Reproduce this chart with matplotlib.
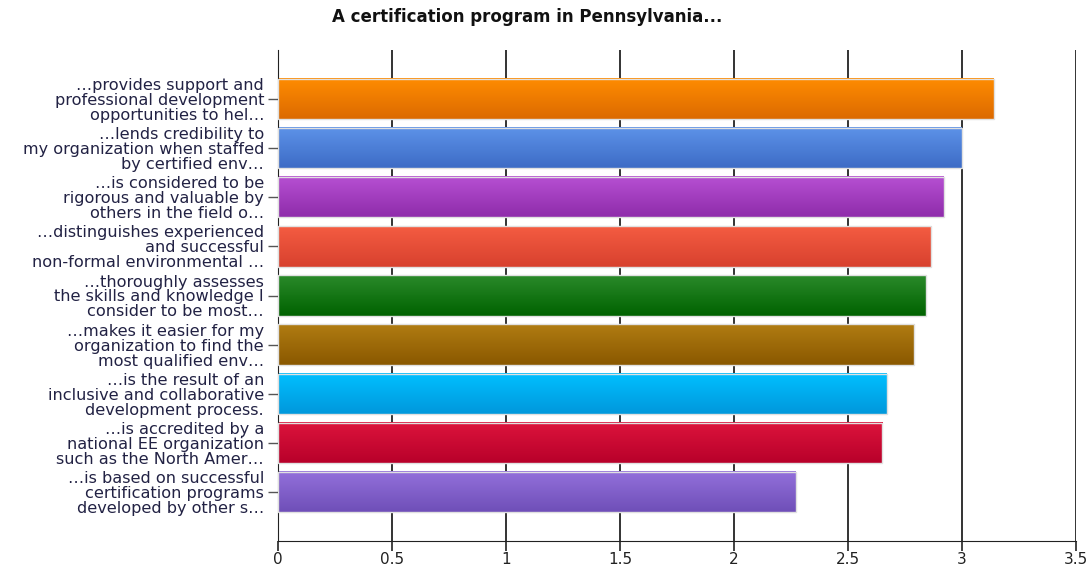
import matplotlib.pyplot as plt
import numpy as np
from matplotlib.colors import LinearSegmentedColormap

# data
labels = [
    "\u2026provides support and\nprofessional development\nopportunities to hel\u2026",
    "\u2026lends credibility to\nmy organization when staffed\nby certified env\u2026",
    "\u2026is considered to be\nrigorous and valuable by\nothers in the field o\u2026",
    "\u2026distinguishes experienced\nand successful\nnon-formal environmental \u2026",
    "\u2026thoroughly assesses\nthe skills and knowledge I\nconsider to be most\u2026",
    "\u2026makes it easier for my\norganization to find the\nmost qualified env\u2026",
    "\u2026is the result of an\ninclusive and collaborative\ndevelopment process.",
    "\u2026is accredited by a\nnational EE organization\nsuch as the North Amer\u2026",
    "\u2026is based on successful\ncertification programs\ndeveloped by other s\u2026",
]
values = [3.14, 3.00, 2.92, 2.865, 2.84, 2.79, 2.67, 2.65, 2.27]
top_colors = ["#ff8c00", "#5d92e8", "#b650d2", "#f45c42", "#2a8a2a",
              "#b07c12", "#00bfff", "#dc143c", "#9370db"]
bottom_colors = ["#dc6a00", "#3d6cc6", "#8f2cab", "#d8412e", "#006200",
                 "#8a5800", "#0098dc", "#b8002a", "#6f4fb8"]

plt.rcParams['font.family'] = ['DejaVu Sans']

fig = plt.figure(figsize=(10.91, 5.65), dpi=100)
ax = fig.add_axes([278/1091, 24/565, (1076-278)/1091, (541-50)/565])

y = np.arange(len(values))
bars = ax.barh(y, values, height=0.82, color='none', edgecolor='#e0e0e0',
               linewidth=1.0, zorder=3)

grad = np.linspace(0, 1, 64).reshape(-1, 1)
for b, c1, c2 in zip(bars, top_colors, bottom_colors):
    x0, y0 = b.get_x(), b.get_y()
    w, h = b.get_width(), b.get_height()
    cmap = LinearSegmentedColormap.from_list('g', [c1, c2])
    ax.imshow(grad, cmap=cmap, aspect='auto', extent=[x0, x0 + w, y0 + h, y0],
              zorder=2, interpolation='bilinear')

ax.set_xlim(0, 3.5)
ax.set_ylim(len(values), -1.0)
ax.set_xticks(np.arange(0, 3.51, 0.5))
ax.set_xticklabels(['0', '0.5', '1', '1.5', '2', '2.5', '3', '3.5'])
ax.set_yticks(y)
ax.set_yticklabels(labels, fontsize=11.6, color='#222244', linespacing=1.0)
ax.xaxis.grid(True, color='#333333', linewidth=1.4, zorder=1)
ax.set_axisbelow(True)

for s in ['top', 'right']:
    ax.spines[s].set_visible(False)
ax.spines['left'].set_color('#222222')
ax.spines['bottom'].set_color('#222222')
ax.tick_params(axis='x', length=7, width=1.2, labelsize=11, colors='#222222', pad=1)
ax.tick_params(axis='y', length=7, width=1.0, color='#555555', pad=3)

fig.text(527/1091, 1 - 17/565, "A certification program in Pennsylvania...",
         ha='center', va='center', fontsize=12, fontweight='bold', color='#111111')

fig.savefig('out.png', dpi=100)
